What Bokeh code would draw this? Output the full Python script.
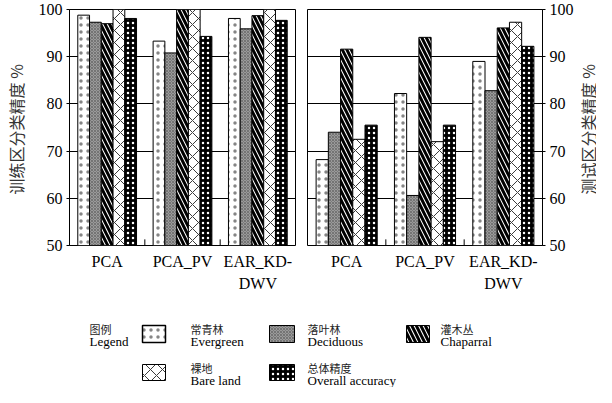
import math
from bokeh.plotting import figure
from bokeh.models import ColumnDataSource, Range1d, FactorRange
from bokeh.transform import dodge
from bokeh.layouts import column, row
from bokeh.embed import file_html
from bokeh.resources import INLINE
from bokeh.core.properties import value

# ---------------- data ----------------
methods = ["PCA", "PCA_PV", "EAR_KD-DWV"]
label_line1 = ["PCA", "PCA_PV", "EAR_KD-"]
label_line2 = ["", "", "DWV"]
series_cn = ["常青林", "落叶林", "灌木丛", "裸地", "总体精度"]
series_en = ["Evergreen", "Deciduous", "Chaparral", "Bare land", "Overall accuracy"]

train_evergreen = [98.8, 93.3, 98.1]
train_deciduous = [97.3, 90.8, 95.9]
train_chaparral = [97.0, 100.0, 98.7]
train_bare = [100.0, 100.0, 100.0]
train_overall = [98.1, 94.3, 97.7]

test_evergreen = [68.2, 82.2, 89.0]
test_deciduous = [74.0, 60.6, 82.8]
test_chaparral = [91.6, 94.1, 96.1]
test_bare = [72.5, 72.0, 97.3]
test_overall = [75.5, 75.5, 92.2]

y_ticks = [50, 60, 70, 80, 90, 100]
grid_ticks = [60, 70, 80, 90]

train_title = "训练区分类精度  %"
test_title = "测试区分类精度  %"
legend_title_cn = "图例"
legend_title_en = "Legend"

# ---------------- styles ----------------
SERIF = "Liberation Serif"
CJK = "Noto Sans CJK SC"
styles = [
    dict(fill_color="white", hatch_pattern=".", hatch_color="#858585", hatch_scale=7, hatch_weight=1),
    dict(fill_color="#9a9a9a", hatch_pattern="x", hatch_color="#5a5a5a", hatch_scale=3, hatch_weight=0.6),
    dict(fill_color="white", hatch_pattern="\\", hatch_color="black", hatch_scale=9, hatch_weight=3),
    dict(fill_color="white", hatch_pattern="x", hatch_color="#3a3a3a", hatch_scale=12, hatch_weight=1),
    dict(fill_color="black", hatch_pattern=".", hatch_color="white", hatch_scale=5, hatch_weight=1.2),
]
BAR_W = 0.156
PANEL_H = 253      # bar panel height (frame 17..253 on page)
LABEL_H = 38       # category-label strip below each panel


def make_panel(series_vals, side, width, bl, br, title=None):
    p = figure(x_range=FactorRange(*methods), y_range=Range1d(50, 100),
               width=width, height=PANEL_H, y_axis_location=side,
               min_border_left=bl, min_border_right=br, min_border_top=9, min_border_bottom=8,
               toolbar_location=None, output_backend="svg")
    p.outline_line_color = "black"
    p.outline_line_width = 1
    p.xaxis.visible = False
    p.xgrid.visible = False
    p.ygrid.ticker = grid_ticks
    p.ygrid.grid_line_color = "black"
    p.ygrid.grid_line_width = 1

    for i, vals in enumerate(series_vals):
        src = ColumnDataSource(dict(m=methods, v=vals))
        p.vbar(x=dodge("m", (i - 2) * BAR_W, range=p.x_range), top="v", bottom=50,
               width=BAR_W, source=src, line_color="black", line_width=1, **styles[i])

    # small inward ticks at group boundaries
    bsrc = ColumnDataSource(dict(m=methods[:-1]))
    p.segment(x0=dodge("m", 0.5, range=p.x_range), y0=50,
              x1=dodge("m", 0.5, range=p.x_range), y1=51.3,
              source=bsrc, line_color="black", line_width=1)

    ya = p.yaxis[0]
    ya.ticker = y_ticks
    ya.minor_tick_line_color = None
    ya.major_tick_in = 0
    ya.major_tick_out = 3
    ya.major_tick_line_color = "black"
    ya.axis_line_color = "black"
    ya.major_label_text_font = SERIF
    ya.major_label_text_font_size = "16px"
    ya.major_label_text_color = "black"
    ya.major_label_standoff = 4
    if title:
        ya.axis_label = title
        ya.axis_label_text_font = CJK
        ya.axis_label_text_font_style = "normal"
        ya.axis_label_text_font_size = "16px"
        ya.axis_label_text_color = "#333333"
        ya.axis_label_standoff = 8

    # category labels strip (shares the x range)
    lab = figure(x_range=p.x_range, y_range=Range1d(LABEL_H, 0), width=width, height=LABEL_H,
                 min_border_left=bl, min_border_right=br, min_border_top=0, min_border_bottom=0,
                 toolbar_location=None, output_backend="svg",
                 x_axis_location=None, y_axis_location=None)
    lab.outline_line_color = None
    lab.grid.visible = False
    lsrc = ColumnDataSource(dict(m=methods, l1=label_line1, l2=label_line2))
    lab.text(x="m", y=8, text="l1", source=lsrc, text_font=value(SERIF), text_font_size="16px",
             text_color="black", text_align="center", text_baseline="middle")
    lab.text(x="m", y=30, text="l2", source=lsrc, text_font=value(SERIF), text_font_size="16px",
             text_color="black", text_align="center", text_baseline="middle")
    return column(p, lab, spacing=0)


c1 = make_panel([train_evergreen, train_deciduous, train_chaparral, train_bare, train_overall],
                "left", 301, 62, 6, title=train_title)
c2 = make_panel([test_evergreen, test_deciduous, test_chaparral, test_bare, test_overall],
                "right", 275, 6, 34)

# right-hand title strip
TH = PANEL_H + LABEL_H
ttl = figure(width=20, height=TH, x_range=Range1d(0, 20), y_range=Range1d(TH, 0),
             min_border=0, toolbar_location=None, output_backend="svg",
             x_axis_location=None, y_axis_location=None)
ttl.outline_line_color = None
ttl.grid.visible = False
ttl.text(x=[11], y=[127], text=[test_title], angle=math.pi / 2, text_font=value(CJK),
         text_font_size="16px", text_color="#333333", text_align="center", text_baseline="middle")

# ---------------- legend panel (page-pixel coordinates) ----------------
leg = figure(width=596, height=96, x_range=Range1d(8, 604), y_range=Range1d(395, 299),
             min_border=0, toolbar_location=None, output_backend="svg",
             x_axis_location=None, y_axis_location=None)
leg.outline_line_color = None
leg.grid.visible = False

sw_left = [150, 277, 414, 150, 277]
sw_right = [173, 302, 437, 173, 302]
sw_top = [333, 333, 333, 372, 372]
sw_h = [17, 17, 17, 16, 16]
txt_x = [198, 315, 448, 198, 315]
cn_y = [336, 336, 336, 375, 375]
en_y = [349, 349, 349, 388, 388]

for i in range(len(series_cn)):
    leg.quad(left=[sw_left[i]], right=[sw_right[i]], top=[sw_top[i]], bottom=[sw_top[i] + sw_h[i]],
             line_color="black", line_width=1.5 if i == 0 else 1, **styles[i])

leg.text(x=txt_x, y=cn_y, text=series_cn, text_font=value(CJK), text_font_size="11px",
         text_color="#222222", text_baseline="middle", text_align="left")
leg.text(x=txt_x, y=en_y, text=series_en, text_font=value(SERIF), text_font_size="13px",
         text_color="black", text_baseline="middle", text_align="left")
leg.text(x=[97], y=[336], text=[legend_title_cn], text_font=value(CJK), text_font_size="11px",
         text_color="#222222", text_baseline="middle", text_align="left")
leg.text(x=[97], y=[349], text=[legend_title_en], text_font=value(SERIF), text_font_size="13px",
         text_color="black", text_baseline="middle", text_align="left")

layout = column(row(c1, c2, ttl, spacing=0), leg, spacing=0)

with open("out.html", "w") as f:
    f.write(file_html(layout, INLINE))
